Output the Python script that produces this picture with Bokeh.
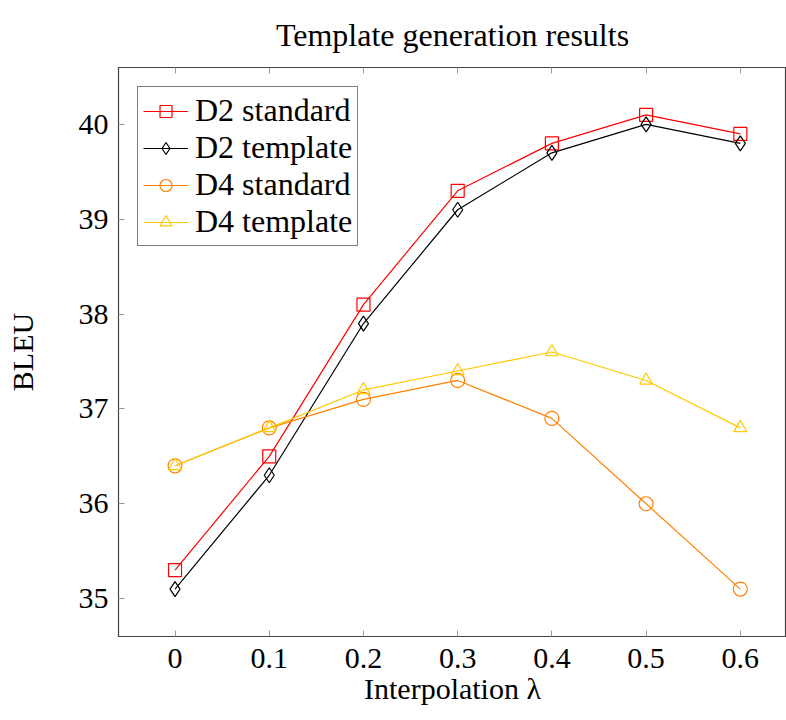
from bokeh.plotting import figure
from bokeh.models import Range1d, LinearAxis, FixedTicker, Legend, LegendItem
from bokeh.embed import file_html
from bokeh.resources import INLINE

lam = [0, 0.1, 0.2, 0.3, 0.4, 0.5, 0.6]
d2_standard = [35.3, 36.5, 38.1, 39.3, 39.8, 40.1, 39.9]
d2_template = [35.1, 36.3, 37.9, 39.1, 39.7, 40.0, 39.8]
d4_standard = [36.4, 36.8, 37.1, 37.3, 36.9, 36.0, 35.1]
d4_template = [36.4, 36.8, 37.2, 37.4, 37.6, 37.3, 36.8]
x_ticks = [0, 0.1, 0.2, 0.3, 0.4, 0.5, 0.6]
y_ticks = [35, 36, 37, 38, 39, 40]

FONT = "Liberation Serif"

p = figure(width=786, height=720, output_backend="svg", toolbar_location=None,
           x_range=Range1d(-0.06, 0.649), y_range=Range1d(34.6, 40.6),
           min_border_left=118, min_border_right=0, min_border_top=0, min_border_bottom=84)
p.grid.visible = False
p.outline_line_color = "#444444"
p.outline_line_width = 1.2

p.title.text = "Template generation results"
p.title.align = "center"
p.title.text_font = FONT
p.title.text_font_size = "32px"
p.title.text_font_style = "normal"
p.title.text_color = "black"
p.title.offset = 0
p.title.standoff = 29

for ax in [p.xaxis[0], p.yaxis[0]]:
    ax.major_tick_in = 6
    ax.major_tick_out = 0
    ax.minor_tick_line_color = None
    ax.major_tick_line_color = "#999999"
    ax.axis_line_color = "#444444"
    ax.major_label_text_font = FONT
    ax.major_label_text_font_size = "30px"
    ax.major_label_text_color = "black"
    ax.axis_label_text_font = FONT
    ax.axis_label_text_font_size = "30px"
    ax.axis_label_text_font_style = "normal"
    ax.axis_label_text_color = "black"

p.xaxis.ticker = FixedTicker(ticks=x_ticks)
p.yaxis.ticker = FixedTicker(ticks=y_ticks)
p.xaxis.major_label_overrides = {0: "0"}
p.xaxis.major_label_standoff = 12
p.yaxis.major_label_standoff = 10
p.xaxis.axis_label = "Interpolation λ"
p.yaxis.axis_label = "BLEU"
p.xaxis.axis_label_standoff = 1
p.yaxis.axis_label_standoff = 37

top = LinearAxis(ticker=FixedTicker(ticks=x_ticks),
                 major_label_overrides={t: "" for t in x_ticks},
                 major_label_text_font_size="4px", major_label_standoff=0,
                 major_tick_in=6, major_tick_out=0, minor_tick_line_color=None,
                 major_tick_line_color="#999999", axis_line_color="#444444")
p.add_layout(top, "above")

series = [
    ("D2 standard", d2_standard, "#ff0000", "square", 13),
    ("D2 template", d2_template, "#000000", "diamond", 15),
    ("D4 standard", d4_standard, "#ff8000", "circle", 14),
    ("D4 template", d4_template, "#ffc800", "triangle", 13),
]
items = []
for name, ys, col, mk, sz in series:
    l = p.line(lam, ys, line_color=col, line_width=1.2)
    m = p.scatter(lam, ys, marker=mk, size=sz, fill_color=None, line_color=col, line_width=1.2)
    items.append(LegendItem(label=name, renderers=[l, m]))

leg = Legend(items=items)
leg.label_text_font = FONT
leg.label_text_font_size = "32px"
leg.label_text_color = "black"
leg.glyph_width = 45
leg.glyph_height = 30
leg.label_height = 30
leg.label_standoff = 7
leg.spacing = 0
leg.padding = 5
leg.margin = 19
leg.border_line_color = "black"
leg.border_line_width = 1.2
leg.background_fill_alpha = 1
leg.location = "top_left"
p.add_layout(leg, "center")

open("out.html", "w").write(file_html(p, INLINE))
